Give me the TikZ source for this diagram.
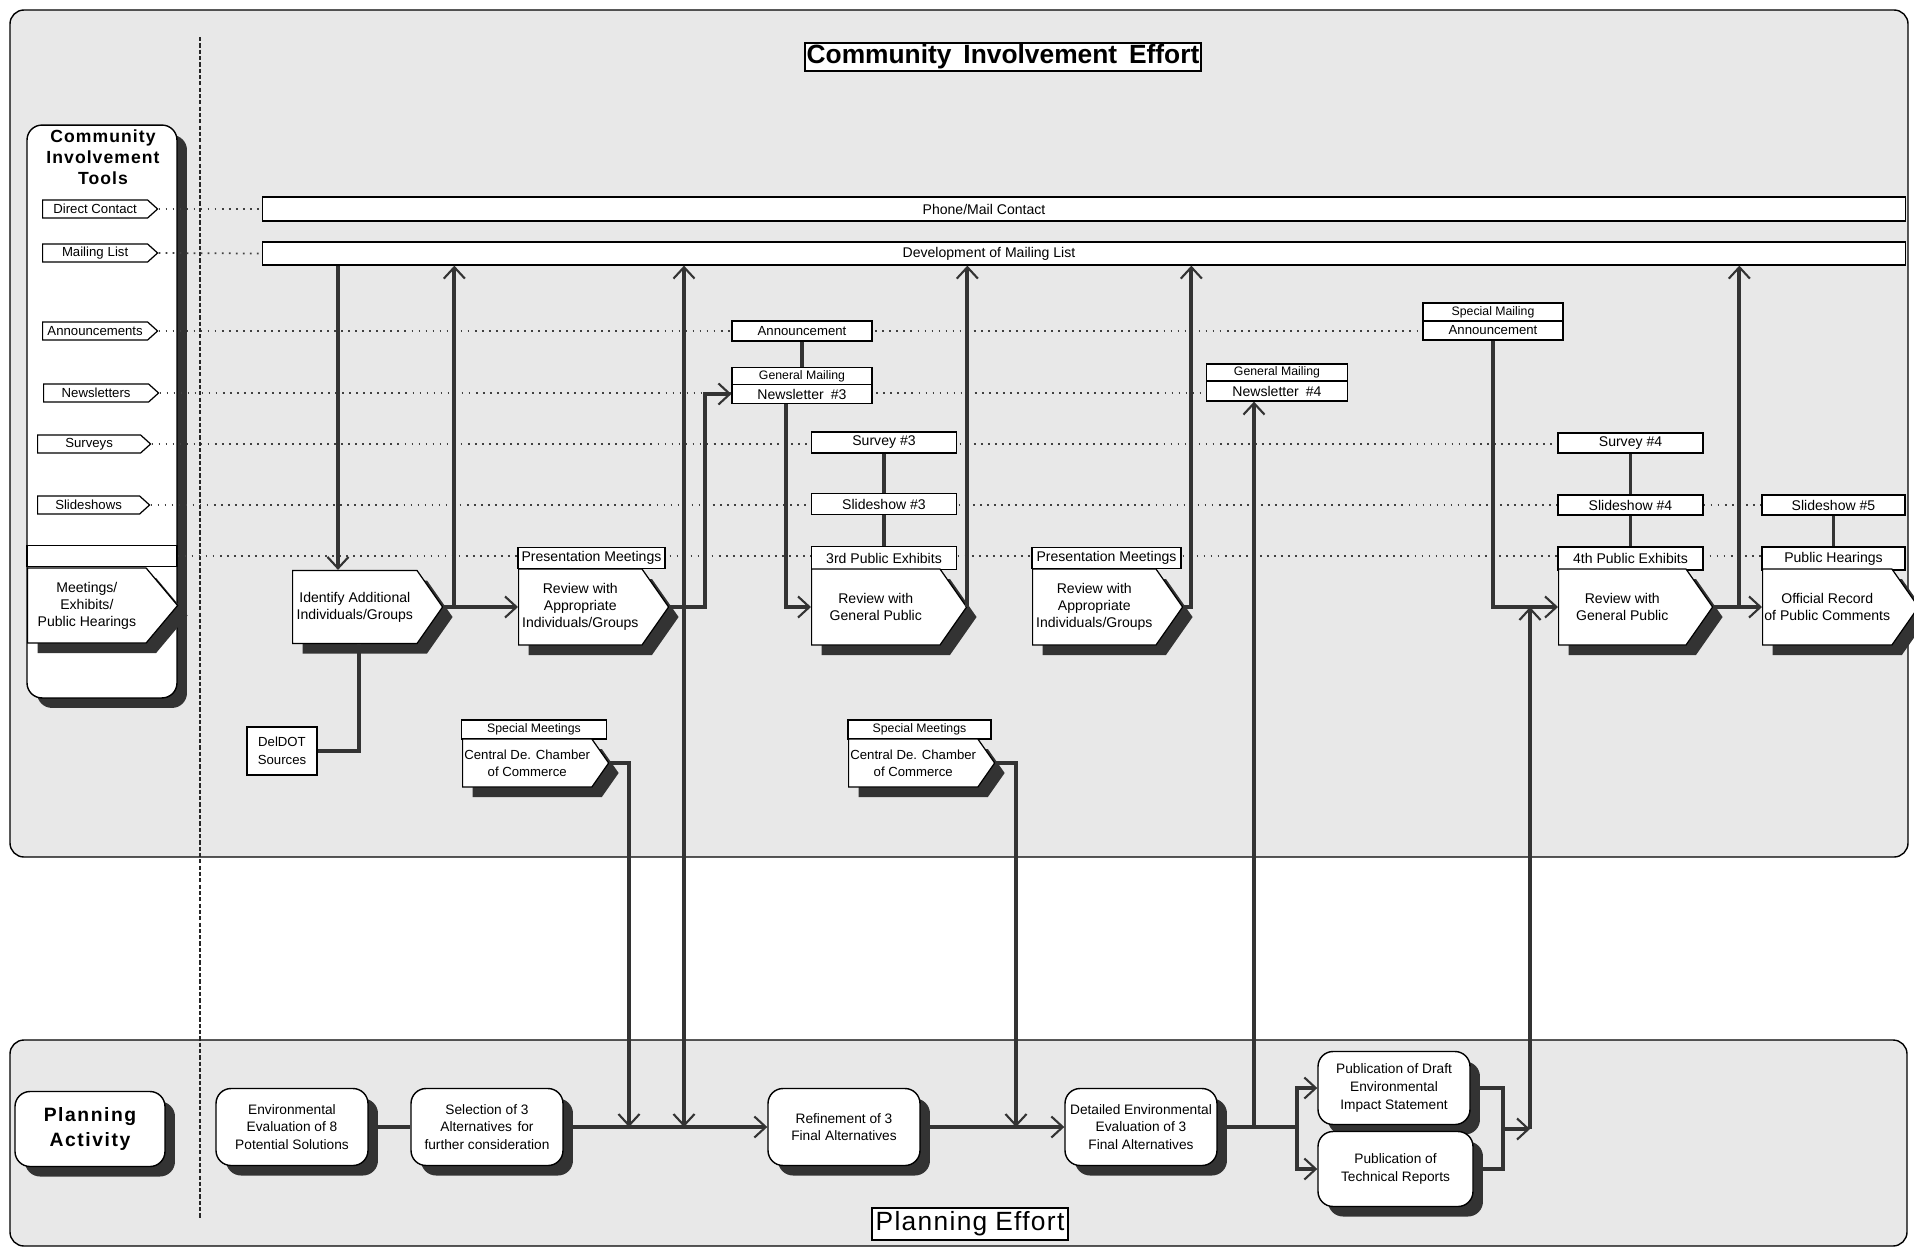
\documentclass[tikz,border=0pt]{standalone}
\usepackage{fontspec}
\setmainfont{Liberation Sans}
\usetikzlibrary{arrows.meta,shapes.symbols,shadows,calc}

\pgfdeclarelayer{back}
\pgfsetlayers{back,main}

\tikzset{
  panel/.style={draw, line width=0.8pt, fill=black!9, rounded corners=0.28cm},
  dshadow/.style={drop shadow={shadow xshift=0.2cm, shadow yshift=-0.2cm, fill=black!80, opacity=1}},
  tag/.style={signal, signal to=east, signal pointer angle=84, draw, fill=white, anchor=west,
    line width=0.7pt, minimum width=2.3cm, minimum height=0.36cm, inner sep=0.5pt,
    font=\fontsize{7.5}{8}\selectfont},
  bar/.style={draw, fill=white, line width=0.7pt, minimum width=32.88cm},
  strip/.style={draw, fill=white, line width=0.7pt, minimum width=2.9cm,
    minimum height=0.42cm, inner sep=0.5pt, font=\fontsize{8}{9}\selectfont},
  small/.style={font=\fontsize{7}{8}\selectfont},
  review/.style={signal, signal to=east, signal pointer angle=110, draw, fill=white, anchor=west,
    line width=0.7pt, minimum width=3cm, minimum height=1.52cm, inner sep=1pt,
    align=center, font=\fontsize{8}{9.7}\selectfont, dshadow},
  plan/.style={draw, fill=white, line width=0.8pt, rounded corners=0.3cm,
    minimum width=3.04cm, minimum height=1.54cm, inner sep=1pt, align=center,
    font=\fontsize{7.8}{10}\selectfont, dshadow},
  dotrow/.style={black!75, line width=1pt, dash pattern=on 1pt off 3pt},
  conn/.style={draw=black!80, line width=2.2pt},
  >={Straight Barb[length=6.5pt,width=12pt,line width=1.2pt]}
}

\begin{document}
\begin{tikzpicture}[x=0.02cm, y=-0.02cm]
\useasboundingbox (0,0) rectangle (1914,1248);

\begin{pgfonlayer}{back}
  \draw[panel] (10,10) rectangle (1908,857);
  \draw[panel] (10,1040) rectangle (1907,1246);
  \draw[black!85, line width=0.8pt, dash pattern=on 2.4pt off 1.2pt] (200,37) -- (200,1218);
  \node[draw, fill=white, line width=0.8pt, rounded corners=0.3cm, minimum width=3cm,
        minimum height=11.46cm, dshadow] (tools) at (102,411.5) {};
\end{pgfonlayer}

% titles
\node[draw, line width=1.3pt, fill=white, inner sep=1pt,
      font=\bfseries\fontsize{15}{16}\selectfont] (cie) at (1003,57)
      {Community\hspace{.45em}Involvement\hspace{.45em}Effort};
\node[draw, line width=1pt, fill=white, inner sep=2pt,
      font=\fontsize{15}{17}\selectfont\addfontfeatures{LetterSpace=5}] (pe) at (970,1224)
      {Planning\hspace{.3em}Effort};

% community involvement tools
\node[align=center, font=\bfseries\fontsize{10}{12}\selectfont\addfontfeatures{LetterSpace=6}]
      (tooltitle) at (103,157) {Community\\Involvement\\Tools};
\node[tag] (tdc) at (42,209) {Direct Contact};
\node[tag] (tml) at (42,253) {Mailing\hspace{.3em}List};
\node[tag] (tann) at (42,331) {Announcements};
\node[tag] (tnews) at (43,393) {Newsletters};
\node[tag, minimum width=2.26cm] (tsurv) at (37,444) {Surveys};
\node[tag, minimum width=2.24cm] (tslide) at (37,505) {Slideshows};
\node[strip, minimum width=3cm] (mstrip) at (102,556) {};
\node[review, signal pointer angle=100, minimum height=1.5cm] (meet) at (27,605.5)
      {Meetings/\\Exhibits/\\Public Hearings};

% bars
\node[bar, minimum height=0.48cm] (phone) at (1084,209) {};
\node[bar, minimum height=0.46cm] (mlist) at (1084,253.5) {};
\node[font=\fontsize{8}{9}\selectfont] (phonetxt) at (984,209) {Phone/Mail Contact};
\node[font=\fontsize{8}{9}\selectfont] (mlisttxt) at (989,253.5) {Development of Mailing List};

% first round
\node[review, minimum height=1.46cm] (idadd) at (292,607) {Identify Additional\\Individuals/Groups};
\node[draw, fill=white, line width=0.7pt, minimum width=1.4cm, minimum height=0.96cm,
      align=center, font=\fontsize{7.5}{10}\selectfont] (deldot) at (282,751) {DelDOT\\Sources};
\node[strip, minimum width=2.94cm] (pres1) at (591.5,558) {Presentation Meetings};
\node[review] (rev1) at (518,607) {Review with\\Appropriate\\Individuals/Groups};
\node[strip, small, minimum width=2.9cm, minimum height=0.38cm] (spm1) at (534,729.5) {Special Meetings};
\node[review, minimum width=2.88cm, minimum height=0.96cm, font=\fontsize{7.5}{9.5}\selectfont]
      (ch1) at (462,763) {Central De. Chamber\\of Commerce};

% newsletter 3 and exhibits 3
\node[strip, minimum width=2.8cm, minimum height=0.4cm, font=\fontsize{7.5}{8}\selectfont]
      (ann3) at (802,331) {Announcement};
\node[strip, small, minimum width=2.8cm, minimum height=0.34cm] (gm3) at (802,376) {General Mailing};
\node[strip, minimum width=2.8cm, minimum height=0.38cm] (nl3) at (802,394) {Newsletter\hspace{.5em}\#3};
\node[strip, minimum height=0.42cm] (sv3) at (884,442.5) {Survey \#3};
\node[strip, minimum height=0.42cm] (sl3) at (884,504) {Slideshow \#3};
\node[strip, minimum height=0.46cm] (ex3) at (884,558) {3rd Public Exhibits};
\node[review, minimum width=3.1cm] (rgp3) at (811,607) {Review with\\General Public};
\node[strip, small, minimum width=2.86cm, minimum height=0.38cm] (spm2) at (919.5,729.5) {Special Meetings};
\node[review, minimum width=2.88cm, minimum height=0.96cm, font=\fontsize{7.5}{9.5}\selectfont]
      (ch2) at (848,763) {Central De. Chamber\\of Commerce};

% second presentation and newsletter 4
\node[strip, minimum width=2.98cm] (pres2) at (1106.5,558) {Presentation Meetings};
\node[review] (rev2) at (1032,607) {Review with\\Appropriate\\Individuals/Groups};
\node[strip, small, minimum width=2.82cm, minimum height=0.34cm] (gm4) at (1277,372.5) {General Mailing};
\node[strip, minimum width=2.82cm, minimum height=0.4cm] (nl4) at (1277,391) {Newsletter\hspace{.5em}\#4};

% exhibits 4 and hearings
\node[strip, small, minimum width=2.8cm, minimum height=0.36cm] (sm5) at (1493,312) {Special Mailing};
\node[strip, minimum width=2.8cm, minimum height=0.38cm, font=\fontsize{7.5}{8}\selectfont]
      (ann5) at (1493,330.5) {Announcement};
\node[strip, minimum height=0.4cm] (sv4) at (1630.5,443) {Survey \#4};
\node[strip, minimum height=0.4cm] (sl4) at (1630.5,505) {Slideshow \#4};
\node[strip, minimum height=0.46cm] (ex4) at (1630.5,558.5) {4th Public Exhibits};
\node[review, minimum width=3.08cm] (rgp4) at (1558,607) {Review with\\General Public};
\node[strip, minimum width=2.86cm, minimum height=0.4cm] (sl5) at (1833.5,505) {Slideshow \#5};
\node[strip, minimum width=2.86cm, minimum height=0.46cm] (ph5) at (1833.5,558.5) {Public Hearings};
\node[review, minimum width=3.02cm] (rec5) at (1762,607) {Official Record\\of Public Comments};

% planning activity
\node[plan, minimum width=3cm, minimum height=1.5cm, font=\bfseries\fontsize{11}{14}\selectfont\addfontfeatures{LetterSpace=8}]
      (plact) at (90,1129) {Planning\\Activity};
\node[plan] (env8) at (292,1127) {Environmental\\Evaluation of 8\\Potential Solutions};
\node[plan] (sel3) at (487,1127) {Selection of 3\\Alternatives\hspace{.4em}for\\further consideration};
\node[plan] (ref3) at (844,1127) {Refinement of 3\\Final\hspace{.3em}Alternatives};
\node[plan] (det3) at (1141,1127) {Detailed Environmental\\Evaluation of 3\\Final Alternatives};
\node[plan, minimum width=3.04cm, minimum height=1.46cm] (draft) at (1394,1088) {Publication of Draft\\Environmental\\Impact Statement};
\node[plan, minimum width=3.1cm, minimum height=1.5cm] (tech) at (1395.5,1169) {Publication of\\Technical Reports};

% dotted tool rows
\begin{pgfonlayer}{back}
  \draw[dotrow] (tdc.east) -- (phone.west);
  \draw[dotrow] (tml.east) -- (mlist.west);
  \draw[dotrow] (tann.east) -- (tann.east -| ann5.west);
  \draw[dotrow] (tnews.east) -- (tnews.east -| nl4.west);
  \draw[dotrow] (tsurv.east) -- (tsurv.east -| sv4.west);
  \draw[dotrow] (tslide.east) -- (tslide.east -| sl5.west);
  \draw[dotrow] (mstrip.east) -- (mstrip.east -| ph5.west);
\end{pgfonlayer}

% junctions
\coordinate (a1) at (338,0 |- idadd.north);
\coordinate (j1) at ($(idadd.east)+(11,0)$);
\coordinate (j2) at ($(rev2.east)+(8,0)$);
\coordinate (j3) at ($(rgp4.east)+(26,0)$);
\coordinate (b1) at (629,1127);
\coordinate (b2) at (684,1127);
\coordinate (b3) at (1016,1127);
\coordinate (b4) at (1254,1127);
\coordinate (bj) at (1297,1127);
\coordinate (bk) at (1502,1129);
\coordinate (b5) at (1530,1129);

% connectors
\draw[conn,->] (mlist.south -| a1) -- (a1);
\draw[conn,->] (idadd.east) -- (rev1.west);
\draw[conn,->] (j1) -- (j1 |- mlist.south);
\draw[conn] ([xshift=0.08cm]idadd.south) |- (deldot.east);
\draw[conn,->] (rev1.east) -- ++(36,0) |- (nl3.west);
\draw[conn,<->] (b2 |- mlist.south) -- (b2);
\draw[conn] (ann3.south) -- (gm3.north);
\draw[conn,->] ([xshift=-0.32cm]nl3.south) |- (rgp3.west);
\draw[conn] (sv3.south) -- (sl3.north) (sl3.south) -- (ex3.north);
\draw[conn,->] (rgp3.east) -- (rgp3.east |- mlist.south);
\draw[conn,->] (ch1.east) -| (b1);
\draw[conn,->] (ch2.east) -| (b3);
\draw[conn,->] (rev2.east) -- (j2) -- (j2 |- mlist.south);
\draw[conn,->] (b4) -- (b4 |- nl4.south);
\draw[conn,->] (ann5.south) |- (rgp4.west);
\draw[conn] (sv4.south) -- (sl4.north) (sl4.south) -- (ex4.north);
\draw[conn,->] (rgp4.east) -- (rec5.west);
\draw[conn,->] (j3) -- (j3 |- mlist.south);
\draw[conn] (sl5.south) -- (ph5.north);

\draw[conn] (env8) -- (sel3);
\draw[conn,->] (sel3) -- (ref3);
\draw[conn,->] (ref3) -- (det3);
\draw[conn] (det3) -- (bj);
\draw[conn,->] (bj) |- (draft.west);
\draw[conn,->] (bj) |- (tech.west);
\draw[conn] (draft.east) -- ++(32,0) |- (tech.east);
\draw[conn,->] (bk) -- (b5);
\draw[conn,->] (b5) -- (b5 |- rgp4.west);
\end{tikzpicture}
\end{document}
